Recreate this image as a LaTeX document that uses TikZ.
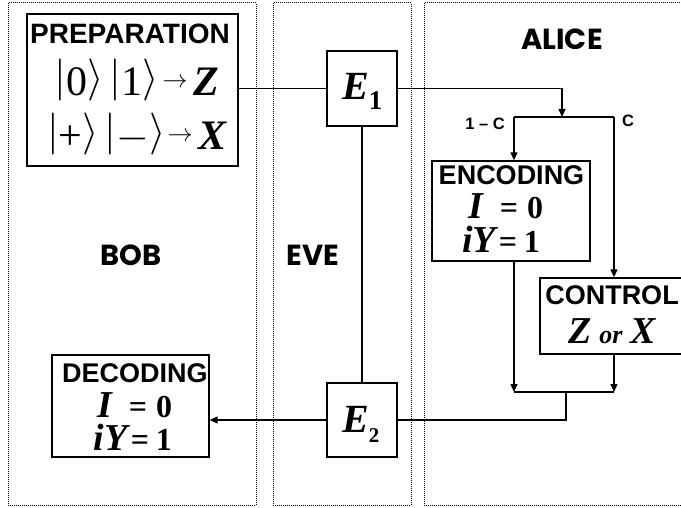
\RequirePackage{fix-cm}
\documentclass[tikz,border=0pt]{standalone}
\usepackage{fontspec}
\setmainfont{Liberation Serif}
\newfontfamily\sansf{Liberation Sans}
\newfontfamily\comicf{Poppins}
\usetikzlibrary{arrows.meta}
\newcommand{\kt}[1]{\raisebox{5pt}{$|$}#1\raisebox{5pt}{$\rangle$}}
\newcommand{\rarr}{\raisebox{8pt}{\fontsize{25}{25}\selectfont$\rightarrow$}}
\newcommand{\dg}[1]{{\fontsize{32}{32}\selectfont #1}}
\begin{document}
\begin{tikzpicture}[x=1pt,y=-1pt,
  panel/.style={draw, line width=1pt, dash pattern=on 1pt off 1pt},
  box/.style={draw, line width=1.4pt, fill=white, inner sep=0pt},
  conn/.style={line width=1.3pt},
  arr/.style={conn, -{Triangle[length=8pt,width=7pt]}},
  sanst/.style={font=\sansf\bfseries\fontsize{27}{27}\selectfont, inner sep=0pt, anchor=base, text height=19pt, text depth=0pt},
  eq/.style={font=\rmfamily\bfseries\fontsize{38}{38}\selectfont, inner sep=0pt, anchor=base, text height=24pt, text depth=0pt},
  ketrow/.style={font=\rmfamily\fontsize{42}{42}\selectfont, inner sep=0pt, anchor=base, text height=34pt, text depth=4pt},
  who/.style={font=\comicf\bfseries\fontsize{29}{29}\selectfont, inner sep=0pt},
  small/.style={font=\sansf\bfseries\fontsize{16.5}{16.5}\selectfont, inner sep=0pt}
]
\useasboundingbox (0,0) rectangle (681,508);
\clip (0,0) rectangle (681,508);
% panels
\draw[panel] (8,3) rectangle (256,505);
\draw[panel] (273,3) rectangle (411,505);
\draw[panel] (424,3) rectangle (720,505);
\node[who] (boblbl) at (131,255) {BOB};
\node[who] (evelbl) at (313,255) {EVE};
\node[who] (alicelbl) at (562,39) {ALICE};
% boxes
\node[box, minimum width=211pt, minimum height=152pt] (prep) at (132.5,90) {};
\node[sanst, font=\sansf\bfseries\fontsize{28}{28}\selectfont] (preptitle) at (130,44) {PREPARATION};
\node[ketrow] (row1) at (137,96) {\kt{0}\hspace{6pt}\kt{1}\hspace{4pt}\rarr\hspace{6pt}{\bfseries\itshape Z}};
\node[ketrow] (row2) at (137,150) {\kt{+}\hspace{6pt}\kt{$-$}\hspace{2pt}\rarr\hspace{6pt}{\bfseries\itshape X}};

\node[box, minimum width=70pt, minimum height=75pt] (E1) at (362,88.5) {};
\node[eq, anchor=base west, font=\rmfamily\bfseries\fontsize{40}{40}\selectfont] (E1t) at (342,100) {{\itshape E}\raisebox{-10pt}{\fontsize{27}{27}\selectfont 1}};
\node[box, minimum width=70pt, minimum height=74pt] (E2) at (362,420) {};
\node[eq, anchor=base west, font=\rmfamily\bfseries\fontsize{40}{40}\selectfont] (E2t) at (342,432) {{\itshape E}\raisebox{-10pt}{\fontsize{21}{21}\selectfont 2}};

\node[box, minimum width=158pt, minimum height=100pt] (enc) at (511,211) {};
\node[sanst] (enct) at (511.5,185) {ENCODING};
\node[eq] (enc1) at (506,219) {{\itshape I}\hspace{16pt}\dg{=}\hspace{9pt}\dg{0}};
\node[eq] (enc2) at (501,253) {{\itshape iY}\hspace{3pt}\dg{=}\hspace{7pt}\dg{1}};

\node[box, minimum width=144pt, minimum height=76pt] (ctrl) at (612,316) {};
\node[sanst] (ctrlt) at (612,305) {CONTROL};
\node[eq] (ctrl1) at (612,343) {{\itshape Z}\hspace{8pt}{\fontsize{26}{26}\selectfont\itshape or}\hspace{8pt}{\itshape X}};

\node[box, minimum width=157pt, minimum height=102pt] (dec) at (130.5,406) {};
\node[sanst] (dect) at (135,382) {DECODING};
\node[eq] (dec1) at (135,417) {{\itshape I}\hspace{16pt}\dg{=}\hspace{9pt}\dg{0}};
\node[eq] (dec2) at (133,450) {{\itshape iY}\hspace{3pt}\dg{=}\hspace{7pt}\dg{1}};

\node[small] (lc) at (485,124) {1 – C};
\node[small] (c) at (628,121) {C};

% connectors
\coordinate (split) at (562,117);
\coordinate (lb) at (514,117);
\coordinate (rb) at (614,117);
\coordinate (jl) at (514,392);
\coordinate (jr) at (614,392);
\coordinate (jm) at (566,392);
\draw[conn] (E1.west) -- (E1.west -| prep.east);
\draw[arr] (E1.east) -| (split);
\draw[conn] (lb) -- (rb);
\draw[arr] (lb) -- (lb |- enc.north);
\draw[arr] (rb) -- (rb |- ctrl.north);
\draw[conn] (E1.south) -- (E2.north);
\draw[arr] (enc.south -| jl) -- (jl);
\draw[arr] (ctrl.south -| jr) -- (jr);
\draw[conn] (jl) -- (jr);
\draw[conn] (jm) |- (E2.east);
\draw[arr] (E2.west) -- (E2.west -| dec.east);
\end{tikzpicture}
\end{document}
